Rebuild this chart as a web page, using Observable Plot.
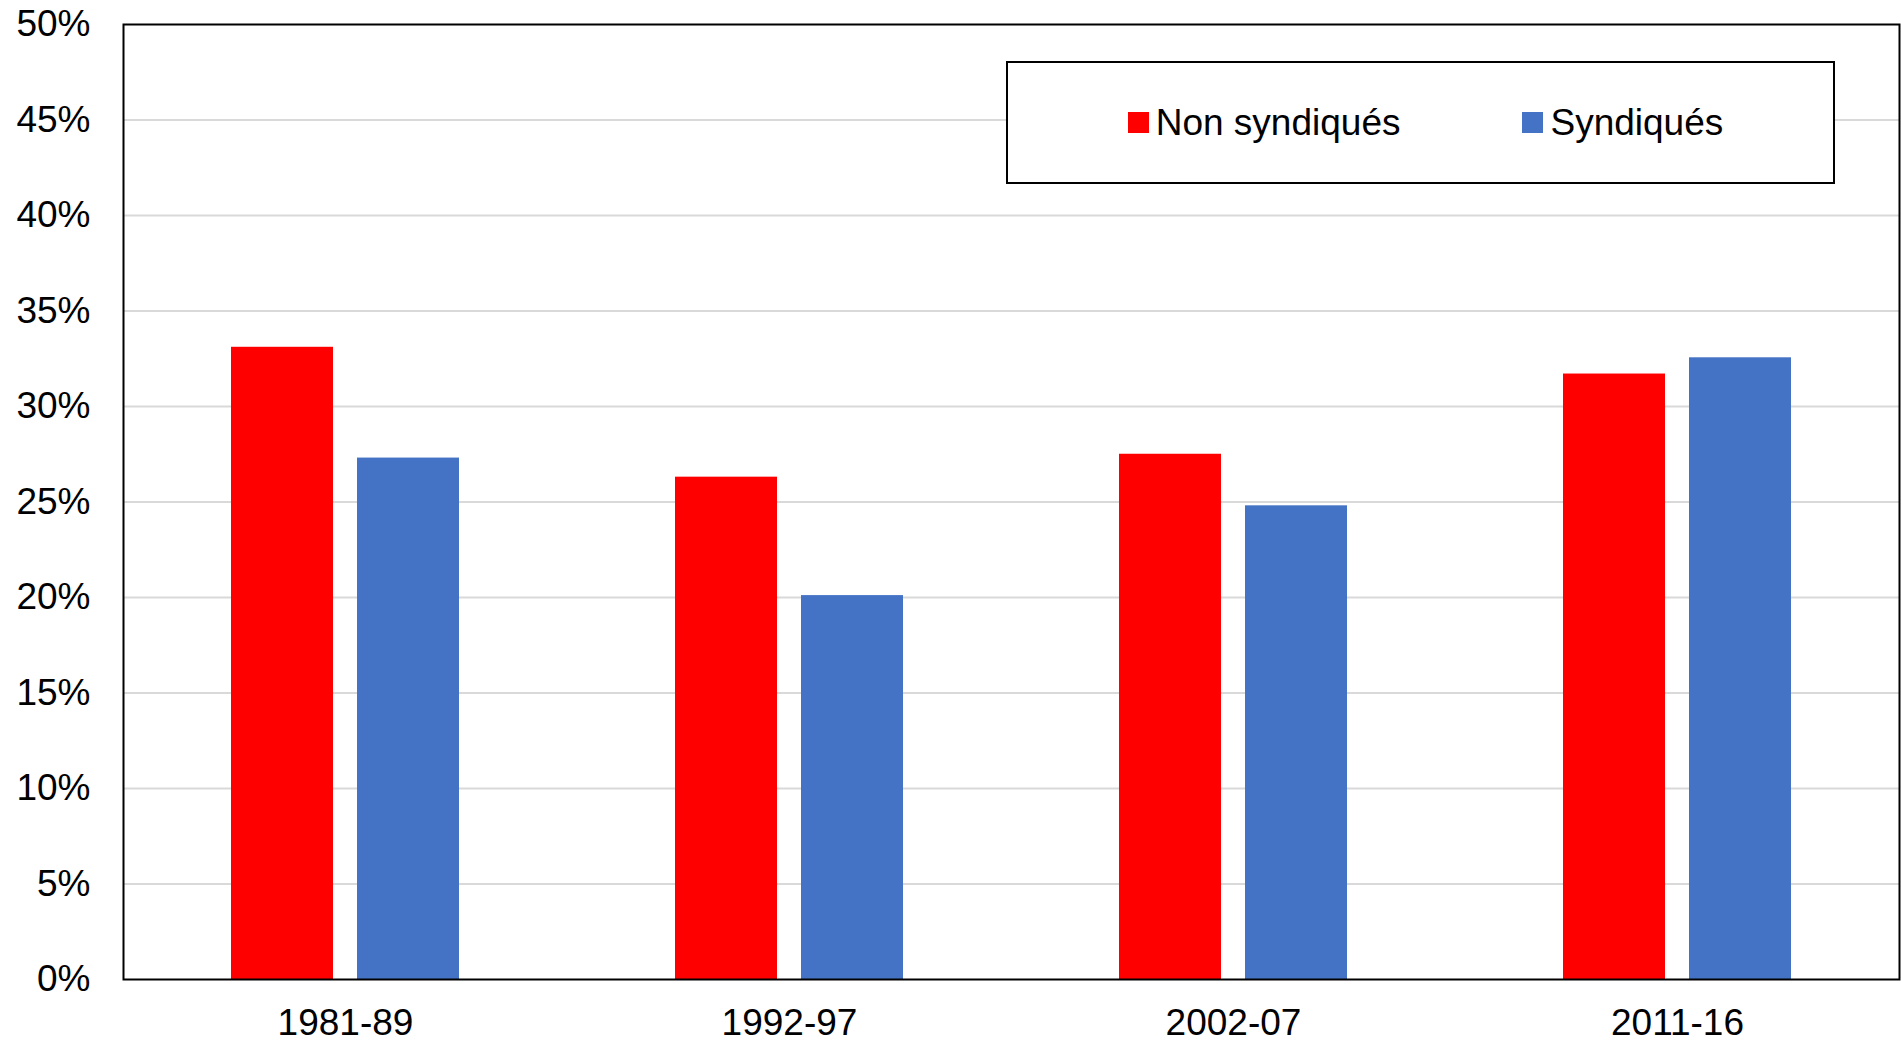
<!DOCTYPE html>
<html>
<head>
<meta charset="utf-8">
<script src="https://cdn.jsdelivr.net/npm/d3@7"></script>
<script src="https://cdn.jsdelivr.net/npm/@observablehq/plot@0.6"></script>
<style>
  html, body { margin: 0; padding: 0; background: #fff; }
  #wrap { position: relative; width: 1901px; height: 1041px; font-family: "Liberation Sans", Arial, sans-serif; }
  #legend {
    position: absolute; left: 1006px; top: 61px; width: 829px; height: 123px;
    box-sizing: border-box; border: 2px solid #000; background: #fff;
    display: flex; align-items: center; justify-content: center; gap: 122px;
    font-size: 37px; color: #000; padding-left: 10px;
  }
  #legend .item { display: flex; align-items: center; }
  #legend .sw { width: 21px; height: 21px; margin-right: 7px; }
</style>
</head>
<body>
<div id="wrap"></div>
<script>
const categories = ["1981-89", "1992-97", "2002-07", "2011-16"];
const series = ["Non syndiqués", "Syndiqués"];
const nonSyndiques = [33.1, 26.3, 27.5, 31.7];
const syndiques = [27.3, 20.1, 24.8, 32.55];
const colors = ["#FF0000", "#4472C4"];
const yTicks = [0, 5, 10, 15, 20, 25, 30, 35, 40, 45, 50];

const rowsA = categories.map((c, i) => ({category: c, series: series[0], value: nonSyndiques[i]}));
const rowsB = categories.map((c, i) => ({category: c, series: series[1], value: syndiques[i]}));

const chart = Plot.plot({
  width: 1901,
  height: 1041,
  marginLeft: 123,
  marginRight: 2,
  marginTop: 24,
  marginBottom: 62,
  style: {fontFamily: "'Liberation Sans', Arial, sans-serif", fontSize: "37px", color: "#000", background: "#fff"},
  x: {domain: categories, padding: 0, label: null, tickSize: 0, tickPadding: 29},
  y: {domain: [0, 50], ticks: yTicks, tickFormat: d => d + "%", label: null, tickSize: 0, tickPadding: 33},
  marks: [
    Plot.ruleY(yTicks.filter(t => t > 0 && t < 50), {stroke: "#d9d9d9", strokeWidth: 2}),
    Plot.barY(rowsA, {x: "category", y: "value", fill: colors[0], insetLeft: 108, insetRight: 234}),
    Plot.barY(rowsB, {x: "category", y: "value", fill: colors[1], insetLeft: 234, insetRight: 108}),
    Plot.frame({stroke: "#000", strokeWidth: 2})
  ]
});
const wrap = document.getElementById("wrap");
wrap.appendChild(chart);

const legend = document.createElement("div");
legend.id = "legend";
series.forEach((s, i) => {
  const item = document.createElement("div");
  item.className = "item";
  const sw = document.createElement("div");
  sw.className = "sw";
  sw.style.background = colors[i];
  const t = document.createElement("span");
  t.textContent = s;
  item.appendChild(sw);
  item.appendChild(t);
  legend.appendChild(item);
});
wrap.appendChild(legend);
</script>
</body>
</html>
